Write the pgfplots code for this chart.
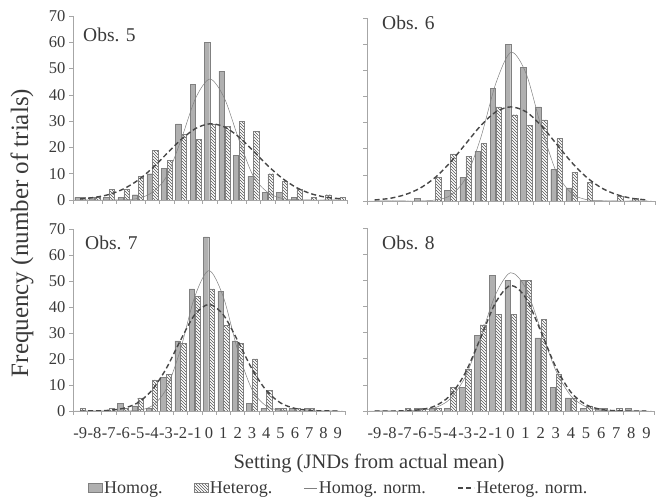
\documentclass[border=0pt]{standalone}
\usepackage{pgfplots}
\usepackage{pgfplotstable}
\pgfplotsset{compat=1.18}
\usetikzlibrary{patterns}
\usepackage{fontspec}
\setmainfont{Liberation Serif}

\definecolor{axgray}{HTML}{A6A6A6}
\definecolor{txt}{HTML}{3A3A3A}
\definecolor{homfill}{HTML}{B0B0B0}
\definecolor{hatch}{HTML}{555555}

% x = setting (JND), hom/het = frequencies, homn/hetn = normal fits
\pgfplotstableread{
x hom het homn hetn
-9 1 1 0 0.4
-8 1 1 0 1.0
-7 1 4 0 2.1
-6 1 4 0.1 4.2
-5 2 9 0.6 7.5
-4 10 19 2.9 12.1
-3 12 15 9.1 17.6
-2 29 25 23.0 23.0
-1 44 23 38.7 27.2
0 60 29 46.0 29.0
1 49 28 38.7 27.8
2 17 30 23.0 24.0
3 9 26 9.1 18.7
4 3 10 2.9 13.1
5 3 7 0.6 8.3
6 1 4 0.1 4.7
7 0 1 0 2.4
8 0 2 0 1.1
9 0 1 0 0.5
}\obsfive

\pgfplotstableread{
x hom het homn hetn
-9 0 0 0 0.4
-8 0 0 0 1.0
-7 0 0 0 2.4
-6 1 0 0 4.9
-5 0 9 0.4 9.0
-4 4 18 2.1 14.8
-3 9 17 8.7 21.8
-2 19 22 24.1 28.8
-1 43 36 45.0 34.1
0 60 33 56.9 36.0
1 51 29 48.7 34.1
2 36 31 28.2 28.8
3 12 24 11.0 21.8
4 5 11 2.9 14.8
5 0 7 0.5 9.0
6 0 0 0.1 4.9
7 0 2 0 2.4
8 0 1 0 1.0
9 0 0 0 0.4
}\obssix

\pgfplotstableread{
x hom het homn hetn
-9 0 1 0 0
-8 0 0 0 0.05
-7 0 1 0 0.26
-6 3 1 0 1.0
-5 2 5 0.3 3.1
-4 1 12 1.9 7.9
-3 13 14 8.3 16.2
-2 27 26 23.5 27.1
-1 47 44 43.9 37.0
0 67 47 54.0 41.0
1 46 33 43.9 37.0
2 27 26 23.5 27.1
3 3 20 8.3 16.2
4 1 8 1.9 7.9
5 1 1 0.3 3.1
6 1 1 0 1.0
7 1 1 0 0.26
8 0 0 0 0.05
9 0 0 0 0
}\obsseven

\pgfplotstableread{
x hom het homn hetn
-9 0 0 0 0
-8 0 0 0 0
-7 0 1 0 0.1
-6 1 1 0.3 0.5
-5 1 1 1.2 1.9
-4 1 9 4.6 5.9
-3 9 16 13.0 14.5
-2 29 33 27.8 27.7
-1 52 37 44.4 41.3
0 50 37 52.9 48.0
1 50 50 47.1 43.4
2 28 35 31.3 30.6
3 9 14 15.5 16.8
4 5 5 5.8 7.2
5 1 2 1.6 2.4
6 1 1 0.3 0.6
7 0 1 0 0.1
8 1 0 0 0
9 0 0 0 0
}\obseight

\pgfplotsset{
  panel/.style={
    scale only axis,
    anchor=south west,
    xmin=-9.5, xmax=9.5, ymin=0, ymax=70,
    axis lines*=left,
    axis line style={axgray, line width=0.7pt},
    xtick={-9.5,-8.5,...,9.5},
    x tick label as interval,
    ytick={0,10,...,70},
    tick align=outside,
    major tick length=4pt,
    tick style={axgray, line width=0.6pt},
    tick label style={font=\fontsize{16.5}{18}\selectfont, text=txt},
    xticklabel style={yshift=-9pt},
    /pgf/number format/assume math mode=true,
  },
  hom/.style={ybar, bar width=0.36, bar shift=-0.2, fill=homfill, draw=gray, line width=0.4pt,
    legend image code/.code={\draw[##1] (0pt,-4.5pt) rectangle (14pt,4.5pt);}},
  het/.style={ybar, bar width=0.36, bar shift=0.2, pattern=north west lines, pattern color=hatch, draw=gray, line width=0.4pt,
    legend image code/.code={\draw[##1] (0pt,-4.5pt) rectangle (14pt,4.5pt);}},
  homn/.style={smooth, no marks, gray, line width=0.5pt,
    legend image code/.code={\draw[##1] (0pt,0pt) -- (13pt,0pt);}},
  hetn/.style={smooth, no marks, black!72, line width=1.4pt, dash pattern=on 5pt off 3pt,
    legend image code/.code={\draw[##1] (0pt,0pt) -- (16pt,0pt);}},
}

\newcommand\panelplots[1]{%
  \addplot[hom] table[x=x,y=hom]{#1};
  \addplot[het] table[x=x,y=het]{#1};
  \addplot[homn] table[x=x,y=homn]{#1};
  \addplot[hetn] table[x=x,y=hetn]{#1};
}

\begin{document}
\begin{tikzpicture}
\useasboundingbox (0,0) rectangle (659pt,498pt);

% Obs. 5 (top left)
\begin{axis}[panel, at={(73pt,298pt)}, width=274pt, height=184pt, xticklabels={}]
\panelplots{\obsfive}
\end{axis}

% Obs. 6 (top right)
\begin{axis}[panel, at={(367pt,297pt)}, width=288pt, height=183pt, xticklabels={}, yticklabels={}]
\panelplots{\obssix}
\end{axis}

% Obs. 7 (bottom left), carries the legend
\begin{axis}[panel, at={(73pt,87pt)}, width=272pt, height=182pt,
  xticklabels={-9,-8,-7,-6,-5,-4,-3,-2,-1,0,1,2,3,4,5,6,7,8,9},
  legend style={at={(0.055,-0.423)}, anchor=west, legend columns=4, draw=none, fill=none,
    inner sep=0pt, font=\fontsize{18}{20}\selectfont, text=txt,
    nodes={inner sep=1.5pt},
    /tikz/every even column/.append style={column sep=30pt}},
  legend cell align=left]
\panelplots{\obsseven}
\legend{Homog., Heterog., Homog. norm., Heterog. norm.}
\end{axis}

% Obs. 8 (bottom right)
\begin{axis}[panel, at={(367pt,87pt)}, width=287pt, height=183pt,
  xticklabels={-9,-8,-7,-6,-5,-4,-3,-2,-1,0,1,2,3,4,5,6,7,8,9}, yticklabels={}]
\panelplots{\obseight}
\end{axis}

\begin{scope}[every node/.style={font=\fontsize{19.5}{22}\selectfont, text=txt, anchor=west, inner sep=0pt}]
\node at (83pt,463pt) {Obs. 5};
\node at (382pt,475pt) {Obs. 6};
\node at (85pt,255pt) {Obs. 7};
\node at (382pt,255pt) {Obs. 8};
\end{scope}

\node[rotate=90, font=\fontsize{25}{28}\selectfont, text=txt] at (22pt,265pt) {Frequency (number of trials)};
\node[font=\fontsize{20.5}{24}\selectfont, text=txt] at (369pt,35pt) {Setting (JNDs from actual mean)};
\end{tikzpicture}
\end{document}
